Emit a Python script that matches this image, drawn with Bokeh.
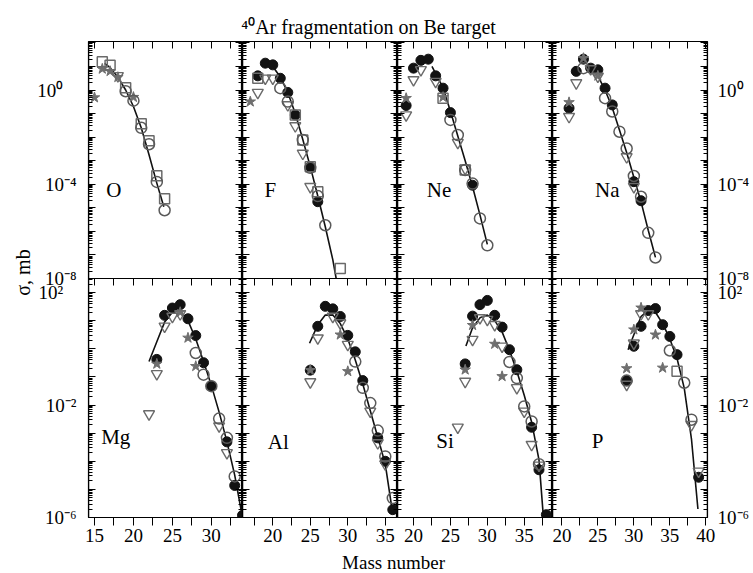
import math
from bokeh.plotting import figure
from bokeh.models import Range1d, LogAxis, LinearAxis, FixedTicker, LogScale
from bokeh.layouts import row, column
from bokeh.embed import file_html
from bokeh.resources import INLINE
from bokeh.core.properties import value

FONT = "Liberation Serif"
TITLE = "⁴⁰Ar fragmentation on Be target"
X_LABEL = "Mass number"
Y_LABEL = "σ, mb"

# ---------------- tick labels ----------------
X_TICKS = [[15, 20, 25, 30], [20, 25, 30, 35], [20, 25, 30, 35], [20, 25, 30, 35, 40]]
X_MINOR = [[17.5, 22.5, 27.5, 32.5], [17.5, 22.5, 27.5, 32.5],
           [22.5, 27.5, 32.5, 37.5], [22.5, 27.5, 32.5, 37.5]]
TOP_DECADES = [-8, -7, -6, -5, -4, -3, -2, -1, 0, 1, 2]
TOP_TICK_LABELS = {0: "10⁰", -4: "10⁻⁴", -8: "10⁻⁸"}
BOT_DECADES = [-6, -5, -4, -3, -2, -1, 0, 1, 2]
BOT_TICK_LABELS = {2: "10²", -2: "10⁻²", -6: "10⁻⁶"}

# ---------------- data: mass number A, cross section in mb ----------------
# O
O_circ_A = [19, 20, 21, 22, 23, 24]
O_circ_mb = [0.89, 0.355, 0.025, 5.0e-3, 1.26e-4, 7.9e-6]
O_sq_A = [16, 17, 19, 21, 22, 23, 24]
O_sq_mb = [15.8, 11.2, 1.26, 0.037, 7.1e-3, 2.3e-4, 2.4e-5]
O_tri_A = [18]
O_tri_mb = [4.0]
O_star_A = [15, 16, 17, 18, 20]
O_star_mb = [0.48, 7.9, 6.3, 3.5, 0.5]
O_fit_A = [16.3, 17, 18, 19, 20, 21, 22, 23, 23.9]
O_fit_mb = [13.5, 8.9, 3.55, 1.0, 0.2, 0.025, 1.78e-3, 1.12e-4, 1.12e-5]

# F
F_fill_A = [18, 19, 20, 21, 22, 23, 25, 26]
F_fill_mb = [4.0, 13.8, 11.7, 3.16, 0.79, 0.087, 5.5e-4, 1.82e-5]
F_circ_A = [21, 22, 24, 25, 26, 27]
F_circ_mb = [1.2, 0.324, 7.6e-3, 5.0e-4, 3.16e-5, 1.82e-6]
F_sq_A = [18, 23, 24, 25, 26, 29]
F_sq_mb = [3.16, 0.087, 7.6e-3, 5.5e-4, 4.8e-5, 2.63e-8]
F_tri_A = [18, 19, 20, 22, 23, 24, 25]
F_tri_mb = [0.78, 3.16, 3.16, 0.234, 0.030, 2.04e-3, 7.9e-5]
F_star_A = [17]
F_star_mb = [0.32]
F_fit_A = [19, 20, 21, 22, 23, 24, 25, 26, 27, 28, 28.45]
F_fit_mb = [14.1, 10.0, 3.55, 0.79, 0.1, 7.9e-3, 5.6e-4, 3.16e-5, 1.58e-6, 6.3e-8, 1.0e-8]

# Ne
Ne_fill_A = [19, 20, 21, 22, 23, 24, 25, 28]
Ne_fill_mb = [0.22, 8.5, 18.2, 20.4, 4.0, 1.2, 0.11, 9.1e-5]
Ne_circ_A = [25, 26, 27, 28, 29, 30]
Ne_circ_mb = [0.054, 0.0123, 4.0e-4, 1.07e-4, 3.55e-6, 2.57e-7]
Ne_sq_A = [24, 27]
Ne_sq_mb = [0.45, 4.0e-4]
Ne_tri_A = [19, 20, 21, 23, 26, 27]
Ne_tri_mb = [0.087, 2.7, 7.2, 2.3, 5.9e-3, 4.7e-4]
Ne_star_A = [19, 24]
Ne_star_mb = [0.45, 0.5]
Ne_fit_A = [22.5, 23, 24, 25, 26, 27, 28, 29, 30]
Ne_fit_mb = [10.0, 5.0, 1.26, 0.126, 0.0112, 1.0e-3, 7.9e-5, 5.0e-6, 2.8e-7]

# Na
Na_fill_A = [21, 22, 23, 24, 25, 26, 27, 30, 31]
Na_fill_mb = [0.17, 6.2, 20.4, 8.5, 7.2, 1.2, 0.234, 1.29e-4, 2.0e-5]
Na_circ_A = [23, 26, 27, 28, 29, 30, 31, 32, 33]
Na_circ_mb = [8.5, 0.45, 0.123, 0.017, 3.3e-3, 2.24e-4, 2.95e-5, 8.7e-7, 7.8e-8]
Na_tri_A = [21, 22, 24, 25, 29, 30]
Na_tri_mb = [0.074, 2.0, 7.9, 3.8, 1.45e-3, 7.9e-5]
Na_star_A = [21, 23, 25]
Na_star_mb = [0.3, 22.4, 4.0]
Na_fit_A = [25, 26, 27, 28, 29, 30, 31, 32, 33]
Na_fit_mb = [4.0, 1.0, 0.178, 0.02, 2.24e-3, 2.0e-4, 1.78e-5, 1.12e-6, 7.9e-8]

# Mg
Mg_fill_A = [23, 24, 25, 26, 27, 28, 29, 30, 32, 33, 34]
Mg_fill_mb = [0.42, 15.5, 28.2, 37.2, 11.7, 2.95, 0.32, 0.047, 4.9e-4, 1.38e-5, 1.2e-6]
Mg_circ_A = [28, 29, 30, 31, 32, 33]
Mg_circ_mb = [0.71, 0.12, 0.047, 3.3e-3, 6.8e-4, 2.9e-5]
Mg_tri_A = [22, 23, 24, 25, 26, 31, 32]
Mg_tri_mb = [4.8e-3, 0.129, 6.3, 14.1, 17.4, 1.78e-3, 2.0e-4]
Mg_star_A = [23, 26, 27, 28]
Mg_star_mb = [0.29, 20.0, 2.45, 0.24]
Mg_fit_A = [22, 23, 24, 25, 26, 27, 28, 29, 30, 31, 32, 33, 33.8]
Mg_fit_mb = [0.355, 1.78, 8.9, 20.0, 22.4, 10.0, 2.24, 0.355, 0.05, 5.6e-3, 5.0e-4, 3.2e-5, 2.0e-6]

# Al
Al_fill_A = [25, 26, 27, 28, 29, 30, 31, 32, 34, 35, 36]
Al_fill_mb = [0.174, 6.3, 32.4, 26.3, 14.1, 3.0, 0.78, 0.074, 6.8e-4, 1.0e-4, 1.9e-6]
Al_circ_A = [31, 32, 33, 34, 35, 36]
Al_circ_mb = [0.35, 0.041, 0.0117, 1.23e-3, 1.48e-4, 4.9e-6]
Al_tri_A = [25, 26, 28, 29, 30, 33, 34, 35]
Al_tri_mb = [0.066, 2.4, 14.1, 8.3, 1.41, 6.0e-3, 4.5e-4, 7.9e-5]
Al_star_A = [25, 29, 30]
Al_star_mb = [0.174, 3.16, 0.158]
Al_fit_A = [24.9, 26, 27, 28, 29, 30, 31, 32, 33, 34, 35, 35.9]
Al_fit_mb = [1.58, 7.1, 15.8, 15.8, 7.9, 2.24, 0.4, 0.056, 6.3e-3, 7.1e-4, 7.9e-5, 2.0e-6]

# Si
Si_fill_A = [27, 28, 29, 30, 31, 32, 33, 34, 36, 37, 38]
Si_fill_mb = [0.29, 14.5, 37.2, 52.5, 15.5, 5.9, 0.93, 0.18, 1.62e-3, 5.0e-5, 1.26e-6]
Si_circ_A = [33, 34, 35, 36, 37]
Si_circ_mb = [0.34, 0.091, 8.9e-3, 2.6e-3, 7.9e-5]
Si_tri_A = [26, 27, 28, 29, 30, 31, 32, 34, 35, 36, 37]
Si_tri_mb = [1.62e-3, 0.069, 2.14, 12.6, 11.0, 7.2, 1.23, 0.041, 6.0e-3, 3.9e-4, 7.2e-5]
Si_star_A = [27, 28, 31, 32]
Si_star_mb = [0.18, 6.9, 1.48, 0.105]
Si_fit_A = [27.1, 28, 29, 30, 31, 32, 33, 34, 35, 36, 37, 37.6]
Si_fit_mb = [1.26, 5.6, 12.6, 15.8, 10.0, 4.0, 0.89, 0.158, 0.0224, 2.5e-3, 1.12e-4, 1.0e-6]

# P
P_fill_A = [29, 30, 31, 32, 33, 34, 35, 36, 39]
P_fill_mb = [0.074, 1.23, 6.3, 22.9, 26.9, 7.2, 2.75, 0.62, 2.7e-5]
P_circ_A = [29, 35, 37, 38]
P_circ_mb = [0.074, 0.87, 0.062, 3.0e-3]
P_sq_A = [36]
P_sq_mb = [0.158]
P_tri_A = [29, 30, 31, 32, 38, 39]
P_tri_mb = [0.054, 1.58, 17.4, 17.4, 2.0e-3, 4.4e-5]
P_star_A = [29, 30, 31, 33, 34]
P_star_mb = [0.2, 4.8, 28.8, 3.16, 0.21]
P_fit_A = [29.2, 30, 31, 32, 33, 34, 35, 36, 37, 38, 38.9]
P_fit_mb = [0.93, 3.16, 14.1, 24.0, 20.0, 7.9, 2.24, 0.45, 0.04, 6.3e-4, 2.0e-6]

PANELS = [
    dict(name="O", col=0, top=True, label_at=(16.5, 5.9e-5), fill=([], []),
         circ=(O_circ_A, O_circ_mb), sq=(O_sq_A, O_sq_mb), tri=(O_tri_A, O_tri_mb),
         star=(O_star_A, O_star_mb), fit=(O_fit_A, O_fit_mb)),
    dict(name="F", col=1, top=True, label_at=(18.9, 5.5e-5), fill=(F_fill_A, F_fill_mb),
         circ=(F_circ_A, F_circ_mb), sq=(F_sq_A, F_sq_mb), tri=(F_tri_A, F_tri_mb),
         star=(F_star_A, F_star_mb), fit=(F_fit_A, F_fit_mb)),
    dict(name="Ne", col=2, top=True, label_at=(21.8, 5.9e-5), fill=(Ne_fill_A, Ne_fill_mb),
         circ=(Ne_circ_A, Ne_circ_mb), sq=(Ne_sq_A, Ne_sq_mb), tri=(Ne_tri_A, Ne_tri_mb),
         star=(Ne_star_A, Ne_star_mb), fit=(Ne_fit_A, Ne_fit_mb)),
    dict(name="Na", col=3, top=True, label_at=(24.6, 5.9e-5), fill=(Na_fill_A, Na_fill_mb),
         circ=(Na_circ_A, Na_circ_mb), sq=([], []), tri=(Na_tri_A, Na_tri_mb),
         star=(Na_star_A, Na_star_mb), fit=(Na_fit_A, Na_fit_mb)),
    dict(name="Mg", col=0, top=False, label_at=(15.86, 7.5e-4), fill=(Mg_fill_A, Mg_fill_mb),
         circ=(Mg_circ_A, Mg_circ_mb), sq=([], []), tri=(Mg_tri_A, Mg_tri_mb),
         star=(Mg_star_A, Mg_star_mb), fit=(Mg_fit_A, Mg_fit_mb)),
    dict(name="Al", col=1, top=False, label_at=(19.33, 5.0e-4), fill=(Al_fill_A, Al_fill_mb),
         circ=(Al_circ_A, Al_circ_mb), sq=([], []), tri=(Al_tri_A, Al_tri_mb),
         star=(Al_star_A, Al_star_mb), fit=(Al_fit_A, Al_fit_mb)),
    dict(name="Si", col=2, top=False, label_at=(23.08, 5.2e-4), fill=(Si_fill_A, Si_fill_mb),
         circ=(Si_circ_A, Si_circ_mb), sq=([], []), tri=(Si_tri_A, Si_tri_mb),
         star=(Si_star_A, Si_star_mb), fit=(Si_fit_A, Si_fit_mb)),
    dict(name="P", col=3, top=False, label_at=(24.16, 5.2e-4), fill=(P_fill_A, P_fill_mb),
         circ=(P_circ_A, P_circ_mb), sq=(P_sq_A, P_sq_mb), tri=(P_tri_A, P_tri_mb),
         star=(P_star_A, P_star_mb), fit=(P_fit_A, P_fit_mb)),
]

# ---------------- layout geometry ----------------
COL_X = [(14.23, 34.0), (15.96, 36.63), (17.83, 38.83), (18.7, 40.23)]
COL_W = [154, 155, 155, 155]
FRAME_H = 476
TOP_H, BOT_H = 237, 239
TOP_LOG = (-8.0, 2.06)
BOT_LOG = (-6.0, 2.5)
BOT_EXT_HI = BOT_LOG[0] + (BOT_LOG[1] - BOT_LOG[0]) * FRAME_H / BOT_H
TOP_EXT_LO = TOP_LOG[0] - (TOP_LOG[1] - TOP_LOG[0]) * BOT_H / TOP_H
BOT_RANGE = (10 ** BOT_LOG[0], 10 ** BOT_EXT_HI)
TOP_RANGE = (10 ** TOP_EXT_LO, 10 ** TOP_LOG[1])
LEFT_BORDER, RIGHT_BORDER = 50, 42
YLAB_W, TITLE_H, XLAB_H = 34, 39, 22
TOP_BORDER, BOTTOM_BORDER = 2, 34
PAD = "\u2002\u2009"   # keeps the short left labels flush with the long ones


def top_to_default(v):
    """Value on the top-row scale -> value on the default (bottom-row) scale at the same height."""
    frac = (math.log10(v) - TOP_EXT_LO) / (TOP_LOG[1] - TOP_EXT_LO)
    return 10 ** (BOT_LOG[0] + frac * (BOT_EXT_HI - BOT_LOG[0]))


STYLES = [
    ("fill", dict(marker="circle", size=10, fill_color="#121212", line_color="#121212", line_width=1)),
    ("star", dict(marker="star", size=11, fill_color="#6f6f6f", line_color="#6f6f6f", line_width=1)),
    ("sq", dict(marker="square", size=10, fill_color=None, line_color="#6a6a6a", line_width=1.5)),
    ("tri", dict(marker="inverted_triangle", size=11, fill_color=None, line_color="#6a6a6a", line_width=1.4)),
    ("circ", dict(marker="circle", size=11, fill_color=None, line_color="#5a5a5a", line_width=1.5)),
]

TXT = dict(major_label_text_font=FONT, major_label_text_font_size="19px",
           major_label_text_color="black")


def y_ticks(decades, hi_log):
    major = [10.0 ** k for k in decades]
    minor = []
    for k in decades:
        for m in range(2, 10):
            v = m * 10.0 ** k
            if math.log10(v) <= hi_log:
                minor.append(v)
    return major, minor


def add_y_tick_axes(p, col, rng_name, decades, hi_log):
    major, minor = y_ticks(decades, hi_log)
    a, b = COL_X[col]
    for side, loc in (("left", a), ("right", b)):
        ax = LogAxis(y_range_name=rng_name, fixed_location=loc,
                     ticker=FixedTicker(ticks=major, minor_ticks=minor),
                     major_tick_in=7, major_tick_out=0, minor_tick_in=4, minor_tick_out=0,
                     axis_line_width=1.2, axis_line_color="black",
                     major_tick_line_color="black", minor_tick_line_color="black",
                     major_label_overrides={t: "" for t in major}, **TXT)
        p.add_layout(ax, side)


def add_y_label_axis(p, side):
    ticks, over = [], {}
    for k, lab in TOP_TICK_LABELS.items():
        t = top_to_default(10.0 ** k)
        ticks.append(t)
        over[t] = lab
    for k, lab in BOT_TICK_LABELS.items():
        t = 10.0 ** k
        ticks.append(t)
        over[t] = lab
    if side == "left":
        over = {t: (lab + PAD if len(lab) == 3 else lab) for t, lab in over.items()}
    ax = LogAxis(ticker=FixedTicker(ticks=ticks, minor_ticks=[]),
                 major_tick_in=0, major_tick_out=0, minor_tick_in=0, minor_tick_out=0,
                 axis_line_color=None, major_tick_line_color=None, minor_tick_line_color=None,
                 major_label_standoff=12 if side == "left" else 10,
                 major_label_overrides=over, **TXT)
    p.add_layout(ax, side)


figs = []
for c in range(4):
    a, b = COL_X[c]
    p = figure(frame_width=COL_W[c], frame_height=FRAME_H,
               x_range=Range1d(a, b), y_range=Range1d(*BOT_RANGE), y_axis_type="log",
               x_axis_location=None, y_axis_location=None,
               toolbar_location=None, output_backend="svg",
               min_border=0, min_border_left=LEFT_BORDER if c == 0 else 0,
               min_border_right=RIGHT_BORDER if c == 3 else 0,
               min_border_top=TOP_BORDER, min_border_bottom=BOTTOM_BORDER,
               outline_line_color="black", outline_line_width=1.2,
               background_fill_color="white", border_fill_color="white")
    p.y_scale = LogScale()
    p.extra_y_ranges = {"top": Range1d(*TOP_RANGE)}
    p.extra_y_scales = {"top": LogScale()}
    p.grid.visible = False

    add_y_tick_axes(p, c, "top", TOP_DECADES, TOP_LOG[1])
    add_y_tick_axes(p, c, "default", BOT_DECADES, BOT_LOG[1])
    if c == 0:
        add_y_label_axis(p, "left")
    if c == 3:
        add_y_label_axis(p, "right")

    xt, xm = X_TICKS[c], X_MINOR[c]
    common = dict(axis_line_width=1.2, axis_line_color="black",
                  major_tick_line_color="black", minor_tick_line_color="black", **TXT)
    top_ax = LinearAxis(y_range_name="top", fixed_location=TOP_RANGE[1],
                        ticker=FixedTicker(ticks=xt, minor_ticks=xm),
                        major_tick_in=7, major_tick_out=0, minor_tick_in=7, minor_tick_out=0,
                        major_label_overrides={t: "" for t in xt}, **common)
    p.add_layout(top_ax, "above")
    mid_ax = LinearAxis(fixed_location=10 ** BOT_LOG[1],
                        ticker=FixedTicker(ticks=xt, minor_ticks=xm),
                        major_tick_in=7, major_tick_out=0, minor_tick_in=7, minor_tick_out=0,
                        major_label_overrides={t: "" for t in xt}, **common)
    p.add_layout(mid_ax, "above")
    bot_ax = LinearAxis(ticker=FixedTicker(ticks=xt, minor_ticks=xm),
                        major_tick_in=0, major_tick_out=8, minor_tick_in=0, minor_tick_out=8,
                        major_label_standoff=3, **common)
    p.add_layout(bot_ax, "below")
    figs.append(p)

for pan in PANELS:
    p = figs[pan["col"]]
    rn = "top" if pan["top"] else "default"
    fa, fm = pan["fit"]
    p.line(fa, fm, y_range_name=rn, line_color="#111111", line_width=1.6)
    for key, sty in STYLES:
        xs, ys = pan[key]
        if len(xs):
            p.scatter(xs, ys, y_range_name=rn, **sty)
    lx, ly = pan["label_at"]
    p.text(x=[lx], y=[ly], text=[pan["name"]], y_range_name=rn,
           text_font=value(FONT), text_font_size=value("21px"),
           text_align="left", text_baseline="alphabetic", text_color="black")


def blank(w, h):
    f = figure(frame_width=w, frame_height=h, x_range=Range1d(0, w), y_range=Range1d(0, h),
               x_axis_location=None, y_axis_location=None, toolbar_location=None,
               output_backend="svg", min_border=0, outline_line_color=None)
    f.grid.visible = False
    return f


total_w = sum(COL_W) + LEFT_BORDER + RIGHT_BORDER
total_h = TITLE_H + TOP_BORDER + FRAME_H + BOTTOM_BORDER + XLAB_H
title_fig = blank(total_w, TITLE_H)
title_fig.text(x=[368 - YLAB_W], y=[13], text=[TITLE], text_font=value(FONT),
               text_font_size=value("20px"), text_align="center", text_baseline="alphabetic",
               text_color="black")
xlab_fig = blank(total_w, XLAB_H)
xlab_fig.text(x=[393 - YLAB_W], y=[11], text=[X_LABEL], text_font=value(FONT),
              text_font_size=value("19px"), text_align="center", text_baseline="alphabetic",
              text_color="black")
ylab_fig = blank(YLAB_W, total_h)
ylab_fig.text(x=[22], y=[total_h - 272], text=[Y_LABEL], angle=math.pi / 2, text_font=value(FONT),
              text_font_size=value("20px"), text_align="center", text_baseline="middle",
              text_color="black")

layout = row(ylab_fig, column(title_fig, row(*figs), xlab_fig))
open("out.html", "w").write(file_html(layout, INLINE))
